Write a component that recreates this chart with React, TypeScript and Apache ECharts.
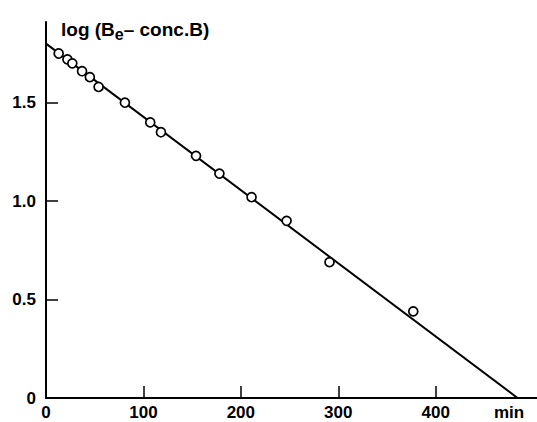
import React, { useEffect, useRef } from "react";
import * as echarts from "echarts";

const timeMin = [13, 22, 27, 37, 45, 54, 81, 107, 118, 154, 178, 211, 247, 291, 377];
const logValues = [1.75, 1.72, 1.70, 1.66, 1.63, 1.58, 1.50, 1.40, 1.35, 1.23, 1.14, 1.02, 0.90, 0.69, 0.44];
const fitX = [0, 484];
const fitY = [1.8, 0];
const xTicks = [0, 100, 200, 300, 400];
const yTicks = [0, 0.5, 1.0, 1.5];

export default function App() {
  const ref = useRef<HTMLDivElement>(null);
  useEffect(() => {
    if (!ref.current) return;
    const chart = echarts.init(ref.current, null, { renderer: "svg" });
    const font = "'Liberation Sans', Arial, sans-serif";
    chart.setOption({
      animation: false,
      backgroundColor: "#ffffff",
      grid: { left: 46, top: 22, width: 491, height: 376 },
      xAxis: {
        type: "value",
        min: 0,
        max: 504,
        axisLine: { show: true, onZero: false, lineStyle: { color: "#000", width: 2 } },
        axisTick: {
          show: true,
          inside: true,
          length: 12,
          customValues: xTicks,
          lineStyle: { color: "#000", width: 1.5 },
        },
        splitLine: { show: false },
        axisLabel: {
          color: "#000",
          fontFamily: font,
          fontWeight: "bold",
          fontSize: 17,
          margin: 6,
          customValues: xTicks,
          formatter: (v: number) => String(v),
        },
      },
      yAxis: {
        type: "value",
        min: 0,
        max: 1.91,
        axisLine: { show: true, onZero: false, lineStyle: { color: "#000", width: 2 } },
        axisTick: {
          show: true,
          inside: true,
          length: 12,
          customValues: yTicks,
          lineStyle: { color: "#000", width: 1.5 },
        },
        splitLine: { show: false },
        axisLabel: {
          color: "#000",
          fontFamily: font,
          fontWeight: "bold",
          fontSize: 17,
          margin: 10,
          customValues: yTicks,
          formatter: (v: number) => (v === 0 ? "0" : v.toFixed(1)),
        },
      },
      series: [
        {
          type: "line",
          data: fitX.map((x, i) => [x, fitY[i]]),
          showSymbol: false,
          lineStyle: { color: "#000", width: 2 },
          z: 2,
        },
        {
          type: "scatter",
          data: timeMin.map((x, i) => [x, logValues[i]]),
          symbol: "circle",
          symbolSize: 9,
          itemStyle: { color: "#ffffff", opacity: 1, borderColor: "#000", borderWidth: 1.7 },
          z: 3,
        },
      ],
      graphic: [
        {
          type: "text",
          left: 61,
          top: 20,
          style: {
            text: "log (B{sub|e}– conc.B)",
            fill: "#000",
            font: `bold 19px ${font}`,
            rich: {
              sub: {
                fontFamily: font,
                fontWeight: "bold",
                fontSize: 16,
                verticalAlign: "bottom",
                padding: [9, 0, 0, 0],
              },
            },
          },
        },
        {
          type: "text",
          x: 509,
          y: 412,
          style: {
            text: "min",
            fill: "#000",
            font: `bold 17px ${font}`,
            align: "center",
            verticalAlign: "middle",
          },
        },
      ],
    });
    return () => chart.dispose();
  }, []);
  return (
    <div
      ref={ref}
      style={{ position: "absolute", left: 0, top: 0, width: 537, height: 422 }}
    />
  );
}
